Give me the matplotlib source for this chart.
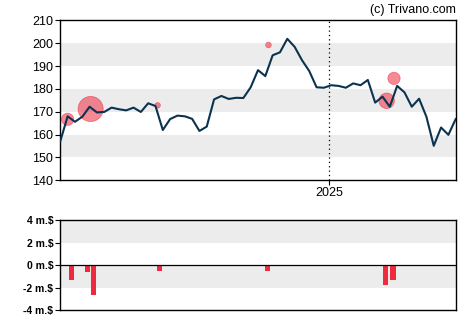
import numpy as np
import pandas as pd
import matplotlib.pyplot as plt
import matplotlib.dates as mdates

# Weekly closing prices
dates = pd.date_range('2024-04-19', periods=55, freq='7D')
prices = [157.1, 168.0, 165.6, 167.8, 172.2, 169.7, 169.9, 171.8, 171.1, 170.6,
          171.8, 169.9, 173.7, 172.5, 162.0, 166.8, 168.3, 168.0, 166.9, 161.6,
          163.5, 175.4, 176.9, 175.6, 176.1, 176.0, 180.7, 188.2, 185.6, 194.7,
          196.0, 201.9, 198.4, 192.6, 187.8, 180.7, 180.5, 181.6, 181.3, 180.5,
          182.4, 181.6, 183.9, 174.0, 176.6, 172.2, 181.3, 178.5, 172.2, 175.7,
          167.8, 155.1, 163.1, 159.9, 166.8]

# Insider trades (date, price, amount in m.$)
trade_dates = pd.to_datetime(['2024-04-26', '2024-05-18', '2024-07-21',
                              '2024-11-04', '2025-02-25', '2025-03-04'])
trade_prices = [166.7, 171.2, 172.8, 199.2, 174.8, 184.6]
trade_amounts = [1.32, 3.24, 0.49, 0.49, 1.77, 1.32]

# Net insider flow per week (m.$)
flow_dates = pd.to_datetime(['2024-04-30', '2024-05-15', '2024-05-21', '2024-07-23',
                             '2024-11-03', '2025-02-24', '2025-03-03'])
flow_values = [-1.32, -0.58, -2.66, -0.49, -0.49, -1.77, -1.32]

plt.rcParams['font.family'] = ['Liberation Sans', 'DejaVu Sans']

fig = plt.figure(figsize=(4.7, 3.25), dpi=100)
ax = fig.add_axes([0.1283, 0.4452, 0.8413, 0.4923])
ax2 = fig.add_axes([0.1283, 0.0462, 0.8413, 0.276])

band = '#ececec'
navy = '#0b3350'
red = '#ee2a3f'

# Price panel
for lo in (150, 170, 190):
    ax.axhspan(lo, lo + 10, color=band, lw=0, zorder=0)
sizes = [(4.9 * a ** 0.8 * 0.72 * 2) ** 2 for a in trade_amounts]
ax.scatter(trade_dates, trade_prices, s=sizes, color=red, alpha=0.55,
           edgecolors=red, linewidths=0.6, zorder=2)
ax.plot(dates, prices, color=navy, lw=1.5, zorder=3)
ax.axvline(pd.Timestamp('2025-01-01'), color='black', ls=(0, (1, 2.5)), lw=0.9, zorder=1)
ax.set_xlim(dates[0], dates[-1])
ax.set_ylim(140, 210)
ax.set_yticks(range(140, 211, 10))
ax.set_xticks([pd.Timestamp('2025-01-01')])
ax.xaxis.set_major_formatter(mdates.DateFormatter('%Y'))
ax.tick_params(labelsize=9, length=3.5, width=0.8, pad=1.5, colors='black')
ax.text(1.0, 1.03, '(c) Trivano.com', transform=ax.transAxes, ha='right',
        va='bottom', fontsize=9)

# Insider flow panel
ax2.axhspan(2, 4, color=band, lw=0, zorder=0)
ax2.axhspan(-2, 0, color=band, lw=0, zorder=0)
ax2.bar(flow_dates, flow_values, width=5, color=red, zorder=2)
ax2.axhline(0, color='black', lw=0.9, zorder=3)
ax2.set_xlim(dates[0], dates[-1])
ax2.set_ylim(-4, 4)
ax2.set_yticks([-4, -2, 0, 2, 4])
ax2.set_yticklabels(['-4 m.$', '-2 m.$', '0 m.$', '2 m.$', '4 m.$'],
                    fontweight='bold')
ax2.set_xticks([])
ax2.tick_params(labelsize=7.5, length=3.5, width=0.8, pad=1.5, colors='black')

for a in (ax, ax2):
    for sp in a.spines.values():
        sp.set_linewidth(1.0)

fig.savefig('out.png', dpi=100)
